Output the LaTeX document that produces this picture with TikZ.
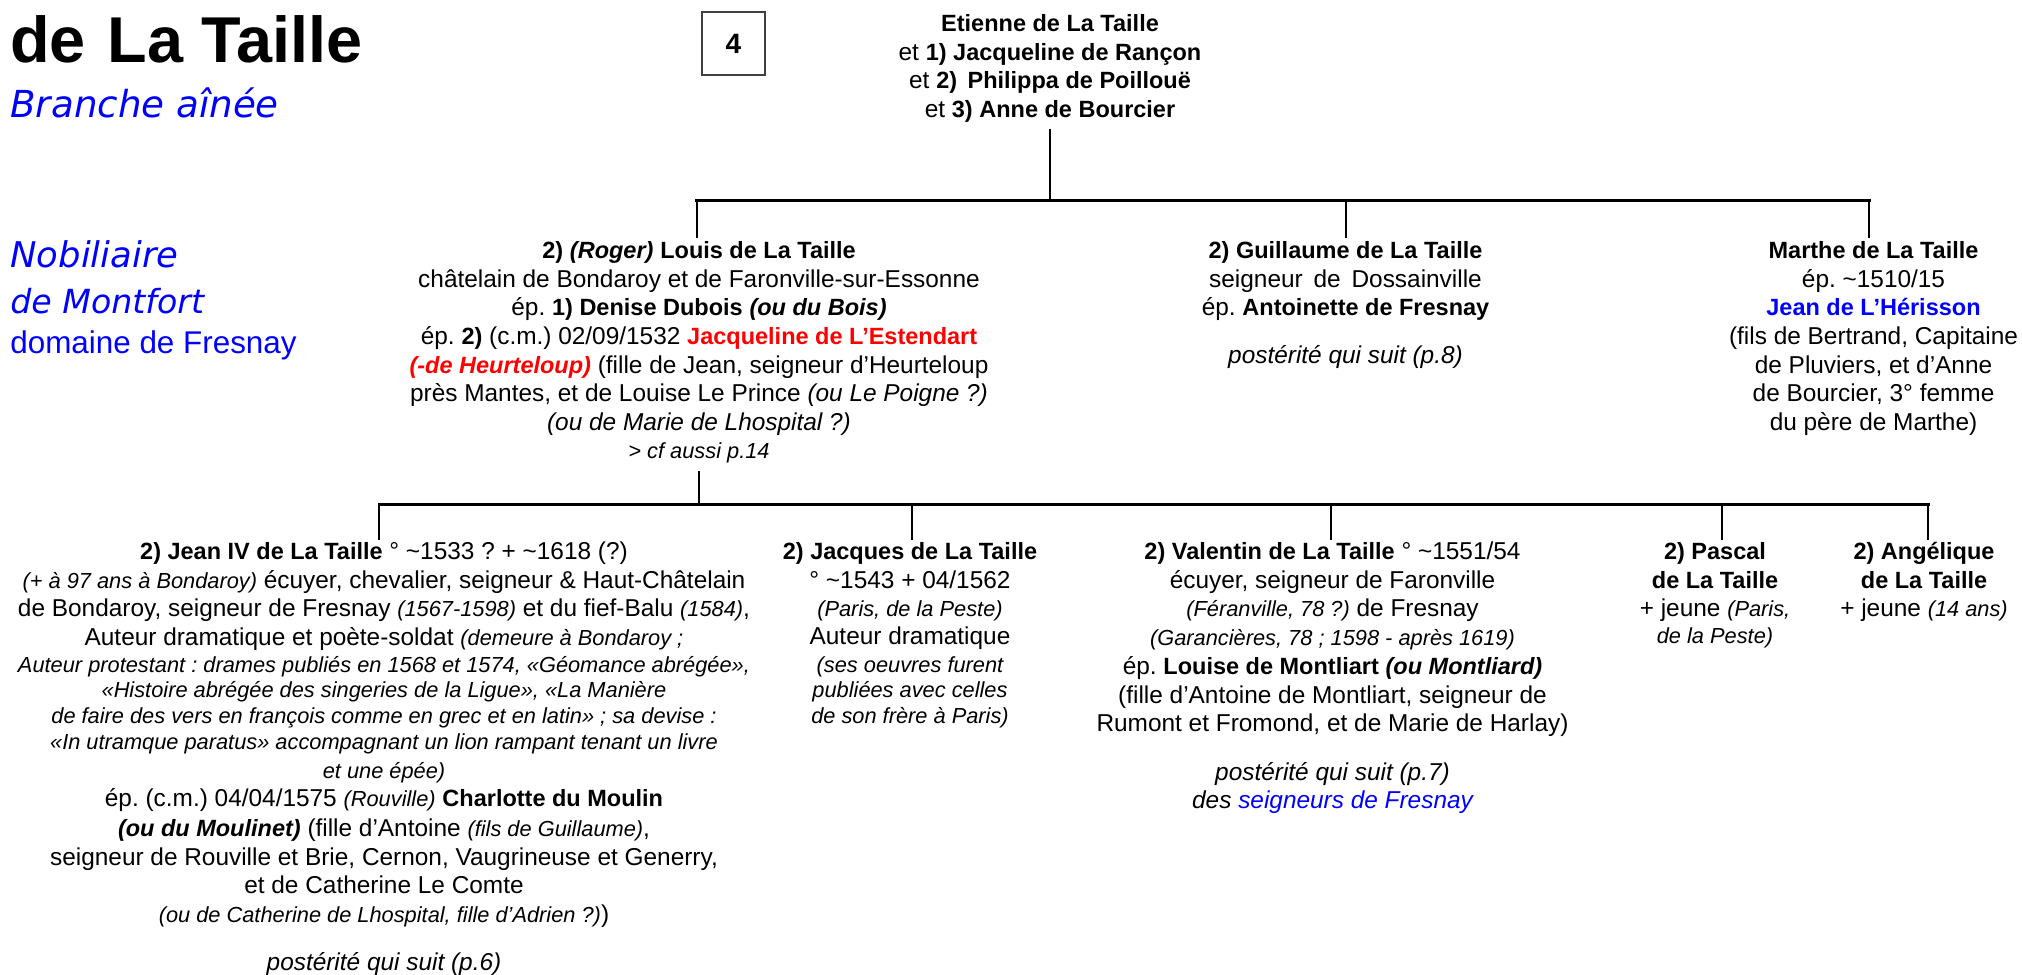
\documentclass[tikz,border=0pt]{standalone}
\usepackage{fontspec}
\setmainfont{Liberation Sans}
\newfontfamily\verd{DejaVu Sans}
\definecolor{pblue}{RGB}{0,0,255}
\definecolor{pred}{RGB}{255,0,0}
\newcommand\sm[1]{{\fontsize{10.9}{14.35}\selectfont\itshape #1}}
\newcommand\bi[1]{{\fontsize{11.75}{14.35}\selectfont\bfseries\itshape #1}}
\newcommand\bb[1]{{\fontsize{11.75}{14.35}\selectfont\bfseries #1}}
\newcommand\fs{\strut}
\newcommand\til{\textasciitilde}
\tikzset{
  x=0.5pt,y=-0.5pt,
  person/.style={anchor=north,inner sep=0pt,align=center,font=\fontsize{12.2}{14.35}\selectfont\frenchspacing},
  bar/.style={line width=1.5pt,line cap=rect},
  drop/.style={line width=1pt},
  pagebox/.style={draw=black!75,line width=0.9pt,minimum width=31.5pt,minimum height=31.5pt,inner sep=0pt,font=\fontsize{14}{16}\selectfont\bfseries},
  heading/.style={anchor=base west,inner sep=0pt,text=pblue},
}
\begin{document}
\begin{tikzpicture}
\useasboundingbox (0,0) rectangle (2022,974);
% headings
\node[anchor=base west,inner sep=0pt,font=\fontsize{32.4}{36}\selectfont\bfseries] (title) at (10,63) {de\,\,La Taille};
\node[heading,font=\fontsize{18.6}{20}\selectfont\verd\itshape] (branche) at (10,118) {Branche aînée};
\node[heading,font=\fontsize{17.7}{20}\selectfont\verd\itshape] (nob) at (10,267) {Nobiliaire};
\node[heading,font=\fontsize{16.6}{20}\selectfont\verd\itshape] (mont) at (10,313) {de Montfort};
\node[heading,font=\fontsize{15.7}{18}\selectfont] (dom) at (10,353) {domaine de Fresnay};
\node[pagebox] (page) at (733.5,43.5) {4};
% persons
\node[person] (etienne) at (1050,11) {\fs\bb{Etienne de La Taille}\\
et \bb{1) Jacqueline de Rançon}\\
et \bb{2)\, Philippa de Poillouë}\\
et \bb{3) Anne de Bourcier}};
\node[person] (louis) at (699,238) {\fs\bb{2)} \bi{(Roger)} \bb{Louis de La Taille}\\
châtelain de Bondaroy et de Faronville-sur-Essonne\\
ép. \bb{1) Denise Dubois} \bi{(ou du Bois)}\\
ép. \bb{2)} (c.m.) 02/09/1532 {\bb{\color{pred}Jacqueline de L’Estendart}}\\
{\bi{\color{pred}(-de Heurteloup)}} (fille de Jean, seigneur d’Heurteloup\\
près Mantes, et de Louise Le Prince \textit{(ou Le Poigne ?)}\\
\textit{(ou de Marie de Lhospital ?)}\\[-0.5pt]
\sm{> cf aussi p.14}};
\node[person] (guillaume) at (1345.5,238) {\fs\bb{2) Guillaume de La Taille}\\
seigneur\, de\, Dossainville\\
ép. \bb{Antoinette de Fresnay}\\[9.5pt]
\textit{postérité qui suit (p.8)}};
\node[person] (marthe) at (1873.5,238) {\fs\bb{Marthe de La Taille}\\
ép. \til 1510/15\\
{\bb{\color{pblue}Jean de L’Hérisson}}\\
(fils de Bertrand, Capitaine\\
de Pluviers, et d’Anne\\
de Bourcier, 3° femme\\
du père de Marthe)};
\node[person] (jean) at (384,539) {\fs\bb{2) Jean IV de La Taille} ° \til 1533 ? + \til 1618 (?)\\
\sm{(+ à 97 ans à Bondaroy)} écuyer, chevalier, seigneur \& Haut-Châtelain\\
de Bondaroy, seigneur de Fresnay \sm{(1567-1598)} et du fief-Balu \sm{(1584)},\\[-0.3pt]
Auteur dramatique et poète-soldat \sm{(demeure à Bondaroy ;}\\[-0.8pt]
\sm{Auteur protestant : drames publiés en 1568 et 1574, «Géomance abrégée»,}\\[-1.5pt]
\sm{«Histoire abrégée des singeries de la Ligue», «La Manière}\\[-1.6pt]
\sm{de faire des vers en françois comme en grec et en latin» ; sa devise :}\\[-1.1pt]
\sm{«In utramque paratus» accompagnant un lion rampant tenant un livre}\\[0pt]
\sm{et une épée)}\\[-0.4pt]
ép. (c.m.) 04/04/1575 \sm{(Rouville)} \bb{Charlotte du Moulin}\\[0.6pt]
\bi{(ou du Moulinet)} (fille d’Antoine \sm{(fils de Guillaume)},\\
seigneur de Rouville et Brie, Cernon, Vaugrineuse et Generry,\\
et de Catherine Le Comte\\
\sm{(ou de Catherine de Lhospital, fille d’Adrien ?)})\\[9.6pt]
\textit{postérité qui suit (p.6)}};
\node[person] (jacques) at (910,539) {\fs\bb{2) Jacques de La Taille}\\
° \til 1543 + 04/1562\\
\sm{(Paris, de la Peste)}\\[-0.3pt]
Auteur dramatique\\[-0.8pt]
\sm{(ses oeuvres furent}\\[-1.5pt]
\sm{publiées avec celles}\\[-1.6pt]
\sm{de son frère à Paris)}};
\node[person] (valentin) at (1332.5,539) {\fs\bb{2) Valentin de La Taille} ° \til 1551/54\\
écuyer, seigneur de Faronville\\
\sm{(Féranville, 78 ?)} de Fresnay\\
\sm{(Garancières, 78 ; 1598 - après 1619)}\\
ép. \bb{Louise de Montliart} \bi{(ou Montliard)}\\
(fille d’Antoine de Montliart, seigneur de\\
Rumont et Fromond, et de Marie de Harlay)\\[9.8pt]
\textit{postérité qui suit (p.7)}\\
\textit{des {\color{pblue}seigneurs de Fresnay}}};
\node[person] (pascal) at (1715,539) {\fs\bb{2) Pascal}\\
\bb{de La Taille}\\
+ jeune \sm{(Paris,}\\[-1pt]
\sm{de la Peste)}};
\node[person] (angelique) at (1924,539) {\fs\bb{2) Angélique}\\
\bb{de La Taille}\\
+ jeune \sm{(14 ans)}};
% junction coordinates
\coordinate (a0) at (1050,129);
\coordinate (aJ) at (1050,200);
\coordinate (aL) at (696.5,200);
\coordinate (aM) at (1345.5,200);
\coordinate (aR) at (1869,200);
\coordinate (aLd) at (696.5,238);
\coordinate (aMd) at (1345.5,238);
\coordinate (aRd) at (1869,238);
\coordinate (b0) at (699,471);
\coordinate (bJ) at (699,504);
\coordinate (bA) at (379,504);
\coordinate (bB) at (912,504);
\coordinate (bC) at (1330.5,504);
\coordinate (bD) at (1721.5,504);
\coordinate (bE) at (1928,504);
\coordinate (bAd) at (379,540);
\coordinate (bBd) at (912,540);
\coordinate (bCd) at (1330.5,540);
\coordinate (bDd) at (1721.5,540);
\coordinate (bEd) at (1928,540);
\draw[drop] (a0) -- (aJ);
\draw[drop] (aL) -- (aLd);
\draw[drop] (aM) -- (aMd);
\draw[drop] (aR) -- (aRd);
\draw[bar] (aL) -- (aR);
\draw[drop] (b0) -- (bJ);
\draw[drop] (bA) -- (bAd);
\draw[drop] (bB) -- (bBd);
\draw[drop] (bC) -- (bCd);
\draw[drop] (bD) -- (bDd);
\draw[drop] (bE) -- (bEd);
\draw[bar] (bA) -- (bE);
\end{tikzpicture}
\end{document}
